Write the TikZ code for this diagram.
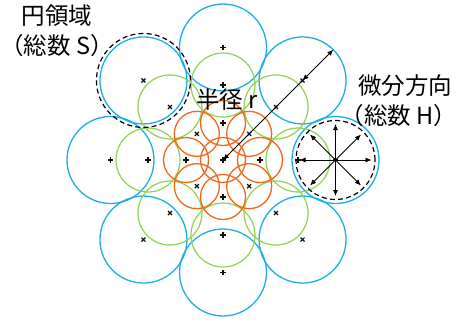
\documentclass[tikz,border=0pt]{standalone}
\usepackage{fontspec}
\setmainfont{Noto Sans CJK JP}
\usetikzlibrary{arrows.meta,calc}
\definecolor{ringblue}{HTML}{1AAFE8}
\definecolor{ringgreen}{HTML}{92D050}
\definecolor{ringorange}{HTML}{F4661B}
\definecolor{markink}{HTML}{111111}
\tikzset{
  bluering/.style  ={draw=ringblue,line width=1.3pt},
  greenring/.style ={draw=ringgreen,line width=1.2pt},
  orangering/.style={draw=ringorange,line width=1.3pt},
  dashring/.style  ={draw=black,line width=1.2pt,dash pattern=on 5pt off 3.2pt},
  ctrmark/.style   ={draw=markink,line width=1.2pt},
  radarrow/.style  ={-{Latex[length=6pt,width=5pt]},line width=0.8pt,draw=black},
  label/.style     ={font=\fontsize{23.5}{30}\selectfont,align=center,inner sep=0pt}
}

\begin{document}
\begin{tikzpicture}[x=1pt,y=-1pt]
  \useasboundingbox (0,0) rectangle (459,322);
  \coordinate (o) at (223,160);
  % ring centres: k even -> "+" , k odd -> "x"
  \foreach \k in {0,...,7}{
    \coordinate (b\k) at ($(o)+(\k*45:112.5)$);
    \coordinate (g\k) at ($(o)+(\k*45:75)$);
    \coordinate (r\k) at ($(o)+(\k*45:37)$);
  }
  % circle regions
  \foreach \k in {0,...,7}
    \draw[bluering] (b\k) circle[radius=43.5pt];
  \foreach \k in {0,...,7}
    \draw[greenring] (g\k) circle[radius=32pt];
  \draw[orangering] (o) circle[radius=22.5pt];
  \foreach \k in {0,...,7}
    \draw[orangering] (r\k) circle[radius=22.5pt];
  % centre marks
  \foreach \p in {o,b0,g0,r0,b2,g2,r2,b4,g4,r4,b6,g6,r6}
    \draw[ctrmark] ($(\p)+(-2.7,0)$) -- ($(\p)+(2.7,0)$)
                   ($(\p)+(0,-2.7)$) -- ($(\p)+(0,2.7)$);
  \foreach \p in {b1,g1,r1,b3,g3,r3,b5,g5,r5,b7,g7,r7}
    \draw[ctrmark] ($(\p)+(-2,-2)$) -- ($(\p)+(2,2)$)
                   ($(\p)+(-2,2)$) -- ($(\p)+(2,-2)$);
  % one circle region, and the directions
  \draw[dashring] (b5) circle[radius=47pt];
  \draw[dashring] (b0) circle[radius=39.5pt];
  \foreach \a in {0,45,...,315}{
    \coordinate (h\a) at ($(b0)+(\a:36)$);
    \draw[radarrow] (b0) -- (h\a);
  }
  % radius
  \coordinate (redge) at ($(b7)+(315:43.5)$);
  \draw[radarrow] (b7) -- (o);
  \draw[radarrow,{Latex[length=6pt,width=5pt]}-{Latex[length=6pt,width=5pt]}] (b7) -- (redge);
  \node[label] (lblS) at (57,31) {円領域\\（総数 S）};
  \node[label] (lblH) at (405,86) {微分方向};
  \node[label] (lblHn) at (399,116) {（総数 H）};
  \node[label] (lblr) at (227,100) {半径 r};
\end{tikzpicture}
\end{document}
